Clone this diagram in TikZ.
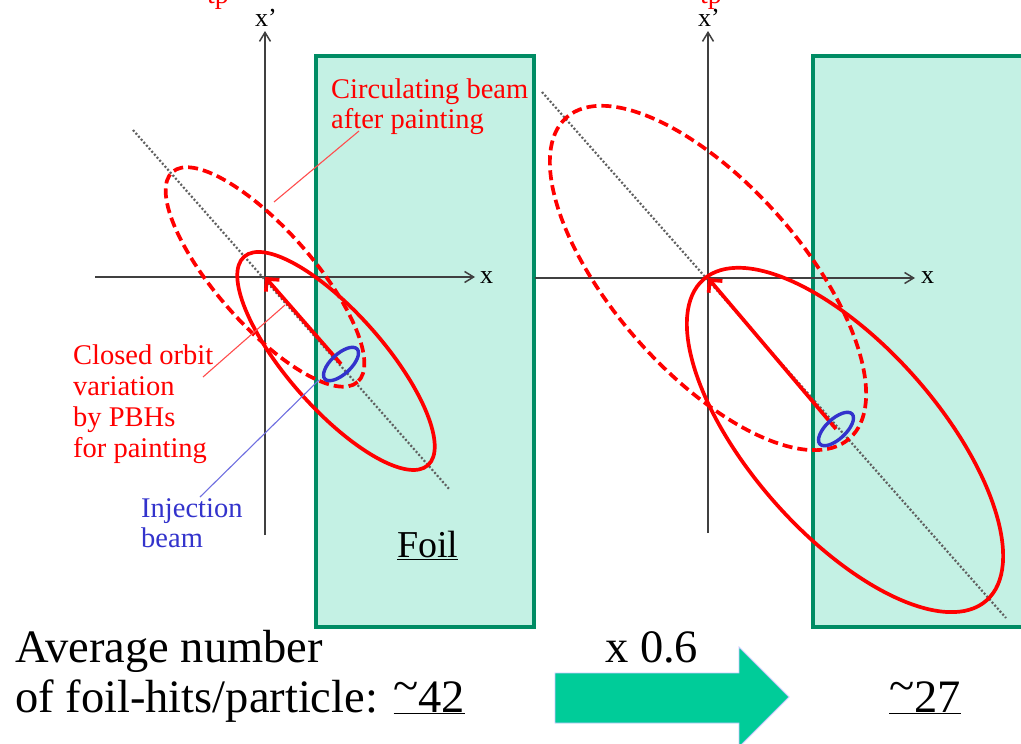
\documentclass[tikz,border=0pt]{standalone}
\usepackage{fontspec}
\setmainfont{Liberation Serif}
\usetikzlibrary{arrows.meta}
\definecolor{foilfill}{HTML}{C4F1E4}
\definecolor{foilline}{HTML}{008C64}
\definecolor{axisgray}{HTML}{404040}
\definecolor{dotgray}{HTML}{606060}
\definecolor{beamred}{HTML}{FF0000}
\definecolor{injblue}{HTML}{3333CC}
\definecolor{arrowgreen}{HTML}{00CC99}
\definecolor{arrowedge}{HTML}{C8C8FF}
\definecolor{leadred}{HTML}{FF4D4D}
\definecolor{leadblue}{HTML}{6F6FE0}
\begin{document}
\begin{tikzpicture}[x=1pt,y=-1pt,
  foil/.style={fill=foilfill,draw=foilline,line width=3.4pt},
  axisline/.style={draw=axisgray,line width=1.5pt,-{Straight Barb[length=9pt,width=11pt]}},
  axislabel/.style={anchor=base,inner sep=0pt,font=\fontsize{26}{28}\selectfont},
  diag/.style={draw=dotgray,line width=2.2pt,dash pattern=on 2pt off 2pt},
  beamsolid/.style={draw=beamred,line width=3.7pt},
  beamdash/.style={draw=beamred,line width=3.7pt,dash pattern=on 10pt off 5pt},
  beamarrow/.style={draw=beamred,line width=3.7pt,-{Straight Barb[length=9pt,width=18pt]}},
  injbeam/.style={draw=injblue,line width=3.4pt},
  redlead/.style={draw=leadred,line width=1.1pt},
  bluelead/.style={draw=leadblue,line width=1.1pt},
  redtext/.style={anchor=base west,inner sep=0pt,text=beamred,font=\fontsize{28.5}{31}\selectfont},
  bluetext/.style={anchor=base west,inner sep=0pt,text=injblue,font=\fontsize{28.5}{31}\selectfont},
  bigtext/.style={anchor=base west,inner sep=0pt,font=\fontsize{46.5}{50}\selectfont},
]
\clip (0,0) rectangle (1021,744);
\fill[white] (0,0) rectangle (1021,744);

% key points
\coordinate (O1) at (265,277);
\coordinate (P1) at (341,364);
\coordinate (C1) at (336,361);
\coordinate (O2) at (708,278);
\coordinate (P2) at (836,429);
\coordinate (C2) at (845,440);

% foils
\draw[foil] (316,56) rectangle (534,627);
\draw[foil] (813,56) rectangle (1040,627);

% axes
\draw[axisline] (265,535) -- (265,31);
\draw[axisline] (95,277) -- (475,277);
\draw[axisline] (708,533) -- (708,31);
\draw[axisline] (535,278) -- (915,278);
\node[axislabel] (xp1) at (266,27) {x’};
\node[axislabel,anchor=base west] (x1) at (480,283) {x};
\node[axislabel] (xp2) at (709,27) {x’};
\node[axislabel,anchor=base west] (x2) at (921,283) {x};

% cut-off red labels at the top edge (cut off in the reference too)
\node[anchor=base,inner sep=0pt,text=beamred,font=\fontsize{28}{30}\selectfont] (tp1) at (218,4) {tp};
\node[anchor=base,inner sep=0pt,text=beamred,font=\fontsize{28}{30}\selectfont] (tp2) at (711,3) {tp};

% diagonal dotted lines
\draw[diag] (133,130) -- (450,490);
\draw[diag] (542,92) -- (1006,618);

% left panel beams
\draw[beamdash, rotate around={-48.6:(O1)}] (O1) ellipse [x radius=140, y radius=48];
\draw[beamsolid, rotate around={-48.6:(C1)}] (C1) ellipse [x radius=139, y radius=48];
\draw[beamarrow] (P1) -- (O1);
\draw[injbeam, rotate around={43:(P1)}] (P1) ellipse [x radius=22, y radius=10];

% right panel beams
\draw[beamdash, rotate around={-48.6:(O2)}] (O2) ellipse [x radius=214, y radius=94];
\draw[beamsolid, rotate around={-48.6:(C2)}] (C2) ellipse [x radius=214, y radius=94];
\draw[beamarrow] (P2) -- (O2);
\draw[injbeam, rotate around={43:(P2)}] (P2) ellipse [x radius=22, y radius=10];

% labels
\node[redtext] (circ1) at (331,98) {Circulating beam};
\node[redtext] (circ2) at (331,128) {after painting};
\node[redtext] (co1) at (73,364) {Closed orbit};
\node[redtext] (co2) at (73,395) {variation};
\node[redtext] (co3) at (73,426) {by PBHs};
\node[redtext] (co4) at (73,457) {for painting};
\node[bluetext] (inj1) at (141,517) {Injection};
\node[bluetext] (inj2) at (141,547) {beam};
\node[anchor=base west,inner sep=0pt,font=\fontsize{38}{40}\selectfont] (foil) at (397,557) {\underline{Foil}};

% leader lines
\coordinate (circA) at (359,131);
\coordinate (circB) at (274,202);
\coordinate (coA) at (203,377);
\coordinate (coB) at (285,305);
\coordinate (injA) at (200,497);
\coordinate (injB) at (319,380);
\draw[redlead] (circA) -- (circB);
\draw[redlead] (coA) -- (coB);
\draw[bluelead] (injA) -- (injB);

% bottom texts
\node[bigtext] (avg1) at (15,662) {Average number};
\node[bigtext] (avg2) at (15,712) {of foil-hits/particle: \underline{\raisebox{11pt}{\textasciitilde}42}};
\node[bigtext] (fac) at (605,662) {x 0.6};
\node[bigtext] (res) at (889,712) {\underline{\raisebox{11pt}{\textasciitilde}27}};

% big arrow
\draw[fill=arrowgreen,draw=arrowedge,line width=0.8pt]
  (555,673) -- (739,673) -- (739,647) -- (789,697) -- (739,747) -- (739,723) -- (555,723) -- cycle;
\end{tikzpicture}
\end{document}
